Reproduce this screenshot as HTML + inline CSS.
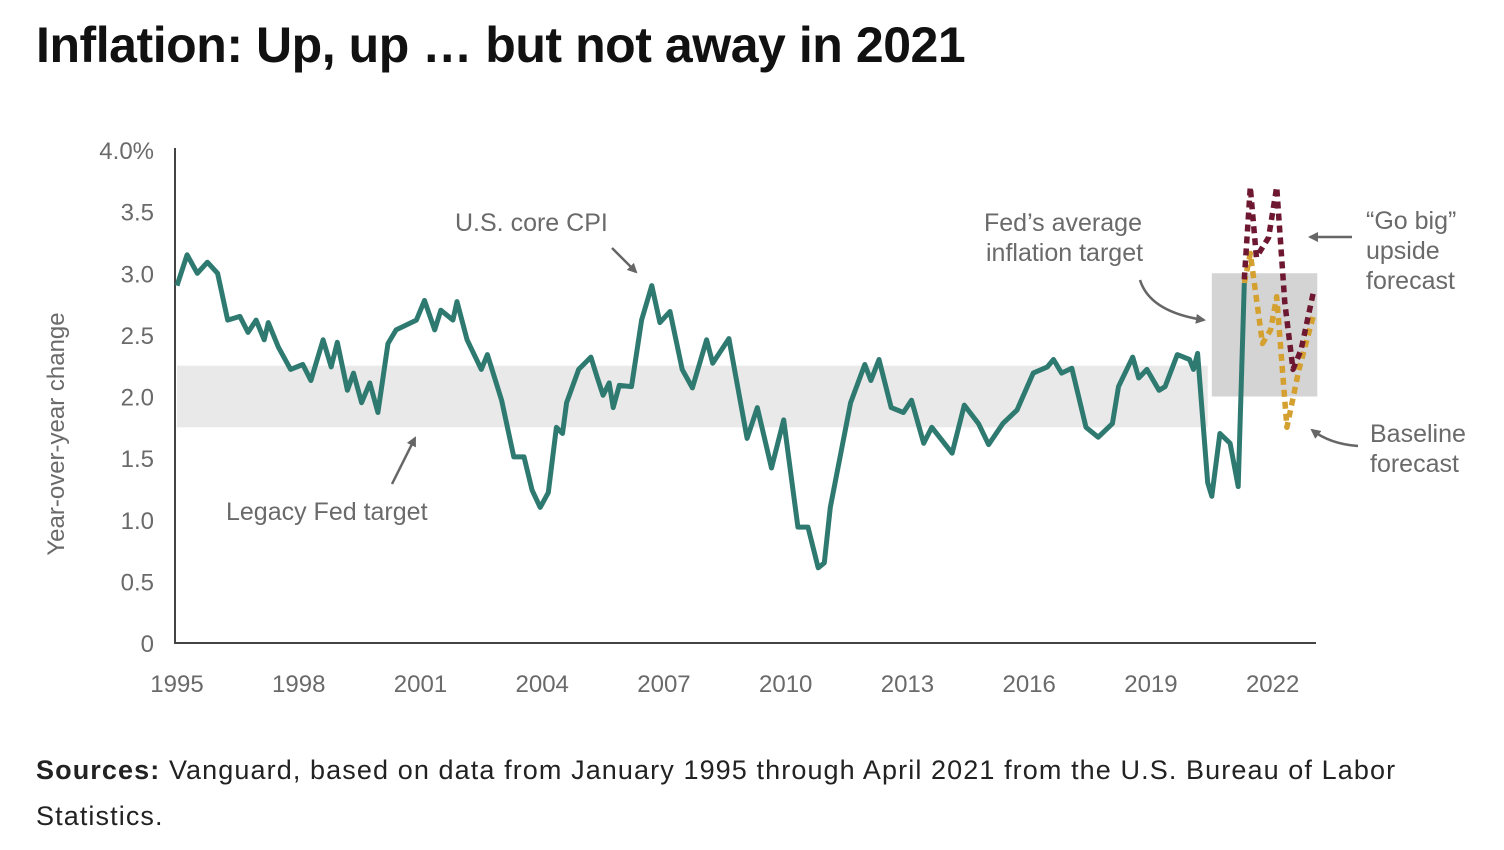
<!DOCTYPE html>
<html><head><meta charset="utf-8">
<style>
html,body{margin:0;padding:0;background:#fff;width:1504px;height:850px;overflow:hidden}
body{font-family:"Liberation Sans",sans-serif}
#title{position:absolute;left:36px;top:16px;font-size:50px;font-weight:bold;color:#111;letter-spacing:-0.45px;margin:0;white-space:nowrap}
#src{position:absolute;left:36px;top:747px;font-size:27px;color:#222;line-height:46px;width:1420px;letter-spacing:1.1px}
svg{position:absolute;left:0;top:0}
</style></head><body>
<h1 id="title">Inflation: Up, up … but not away in 2021</h1>
<svg id="chart" width="1504" height="850"></svg>
<div id="src"><b>Sources:</b> Vanguard, based on data from January 1995 through April 2021 from the U.S. Bureau of Labor Statistics.</div>
<script>
const yTicks=[0,0.5,1.0,1.5,2.0,2.5,3.0,3.5,4.0];
const yTickLabels=["0","0.5","1.0","1.5","2.0","2.5","3.0","3.5","4.0%"];
const xTicks=[1995,1998,2001,2004,2007,2010,2013,2016,2019,2022];
const coreYears=[1995.0,1995.25,1995.5,1995.75,1996.0,1996.25,1996.55,1996.75,1996.95,1997.15,1997.25,1997.5,1997.8,1998.1,1998.3,1998.6,1998.8,1998.95,1999.2,1999.35,1999.55,1999.75,1999.95,2000.2,2000.4,2000.9,2001.1,2001.35,2001.5,2001.8,2001.9,2002.15,2002.5,2002.65,2003.0,2003.3,2003.55,2003.75,2003.95,2004.15,2004.35,2004.5,2004.6,2004.9,2005.2,2005.35,2005.5,2005.65,2005.75,2005.9,2006.2,2006.45,2006.7,2006.9,2007.15,2007.45,2007.7,2008.05,2008.2,2008.6,2009.05,2009.3,2009.65,2009.95,2010.3,2010.55,2010.8,2010.95,2011.1,2011.6,2011.95,2012.1,2012.3,2012.6,2012.9,2013.1,2013.4,2013.6,2014.1,2014.4,2014.75,2015.0,2015.35,2015.7,2016.1,2016.45,2016.6,2016.8,2017.05,2017.4,2017.7,2018.05,2018.2,2018.55,2018.7,2018.9,2019.2,2019.35,2019.65,2019.95,2020.05,2020.15,2020.4,2020.5,2020.7,2020.95,2021.15,2021.3];
const coreValues=[2.90,3.15,3.00,3.09,3.00,2.62,2.65,2.52,2.62,2.46,2.60,2.40,2.22,2.26,2.13,2.46,2.24,2.44,2.05,2.19,1.95,2.11,1.87,2.43,2.54,2.62,2.78,2.54,2.70,2.62,2.77,2.46,2.22,2.34,1.97,1.51,1.51,1.24,1.10,1.22,1.75,1.70,1.95,2.22,2.32,2.16,2.01,2.11,1.91,2.09,2.08,2.62,2.90,2.60,2.69,2.22,2.07,2.46,2.27,2.47,1.66,1.91,1.42,1.81,0.94,0.94,0.61,0.65,1.10,1.95,2.26,2.13,2.30,1.91,1.87,1.97,1.62,1.75,1.54,1.93,1.78,1.61,1.78,1.89,2.19,2.24,2.30,2.19,2.23,1.75,1.67,1.78,2.08,2.32,2.15,2.22,2.05,2.08,2.34,2.30,2.22,2.35,1.30,1.19,1.70,1.62,1.27,2.92];
const upYears=[2021.3,2021.45,2021.6,2021.9,2022.1,2022.3,2022.5,2022.7,2023.0];
const upValues=[2.95,3.70,3.13,3.29,3.70,2.76,2.22,2.38,2.84];
const baseYears=[2021.3,2021.45,2021.75,2021.95,2022.1,2022.35,2022.65,2023.0];
const baseValues=[2.92,3.16,2.43,2.54,2.81,1.75,2.22,2.65];
const legacyBand=[1.75,2.25];
const avgBand=[2.0,3.0];
const avgBandYears=[2020.5,2023.1];

const x0=177,xPerYear=40.58,y0=643,yPerUnit=123.25;
const X=v=>x0+(v-1995)*xPerYear, Y=v=>y0-v*yPerUnit;
const svg=document.getElementById('chart');const NS='http://www.w3.org/2000/svg';
function mk(t,a,p){const e=document.createElementNS(NS,t);for(const k in a)e.setAttribute(k,a[k]);(p||svg).appendChild(e);return e;}
function txt(x,y,s,anchor,size,fill){const e=mk('text',{x:x,y:y,'text-anchor':anchor||'start','font-size':size||24,fill:fill||'#6a6a6a','font-family':'Liberation Sans, sans-serif'});e.textContent=s;return e;}

let e;
e=mk('rect',{x:X(1995),y:Y(legacyBand[1]),width:X(2020.4)-X(1995),height:Y(legacyBand[0])-Y(legacyBand[1]),fill:'#e9e9e9'});


e=mk('rect',{x:X(avgBandYears[0]),y:Y(avgBand[1]),width:X(avgBandYears[1])-X(avgBandYears[0]),height:Y(avgBand[0])-Y(avgBand[1]),fill:'#d4d4d4'});



e=mk('line',{x1:175,y1:148,x2:175,y2:644,stroke:'#444','stroke-width':2});


e=mk('line',{x1:174,y1:643,x2:1316,y2:643,stroke:'#444','stroke-width':2});



yTicks.forEach((v,i)=>{const t=txt(154,Y(v)+9,yTickLabels[i],'end',24);

});
xTicks.forEach(v=>{const t=txt(X(v),692,String(v),'middle',24);

});
e=txt(0,0,'Year-over-year change','middle',24);
e.setAttribute('transform','translate(64,434) rotate(-90)');



function pathD(xs,vs){return xs.map((x,i)=>(i?'L':'M')+X(x).toFixed(1)+','+Y(vs[i]).toFixed(1)).join(' ');}
e=mk('path',{d:pathD(baseYears,baseValues),fill:'none',stroke:'#d4a02f','stroke-width':5.5,'stroke-dasharray':'7 5','stroke-linejoin':'round'});


e=mk('path',{d:pathD(upYears,upValues),fill:'none',stroke:'#6e1730','stroke-width':5.5,'stroke-dasharray':'7 5','stroke-linejoin':'round'});


e=mk('path',{d:pathD(coreYears,coreValues),fill:'none',stroke:'#2f7a70','stroke-width':5,'stroke-linejoin':'round'});



mk('defs',{}).innerHTML='<marker id="ah" viewBox="0 0 10 10" refX="8" refY="5" markerWidth="4" markerHeight="4" orient="auto"><path d="M0,0 L10,5 L0,10 z" fill="#666"/></marker>';
function arrow(d,name){const a=mk('path',{d:d,fill:'none',stroke:'#666','stroke-width':2.5,'marker-end':'url(#ah)'});

}
arrow('M612,248 L636,272','core-cpi-arrow');
arrow('M392,484 L415,438','legacy-target-arrow');
arrow('M1140,280 Q1150,312 1204,320','avg-target-arrow');
arrow('M1352,237 L1310,237','upside-arrow');
arrow('M1358,446 Q1330,444 1312,430','baseline-arrow');

const labels=[[455,231,'U.S. core CPI','core-cpi-label'],[226,520,'Legacy Fed target','legacy-target-label'],[984,231,'Fed’s average','avg-target-label'],[986,261,'inflation target','avg-target-label-2'],[1366,229,'“Go big”','upside-label'],[1366,259,'upside','upside-label-2'],[1366,289,'forecast','upside-label-3'],[1370,442,'Baseline','baseline-label'],[1370,472,'forecast','baseline-label-2']];
labels.forEach(l=>{const t=txt(l[0],l[1],l[2],'start',25);

});
</script>
</body></html>
